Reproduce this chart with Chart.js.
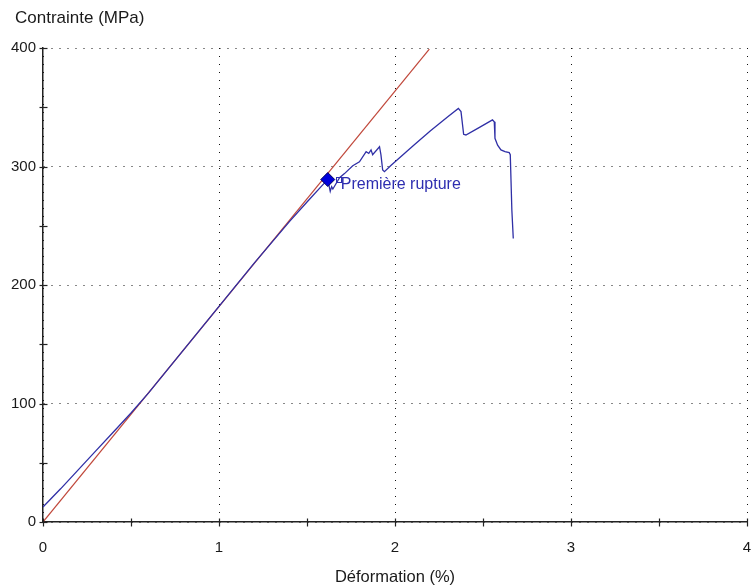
<!DOCTYPE html>
<html><head><meta charset="utf-8">
<script src="https://cdn.jsdelivr.net/npm/chart.js@4/dist/chart.umd.min.js"></script>
<style>html,body{margin:0;padding:0;background:#fff;}canvas{display:block;}</style>
</head><body>
<canvas id="c" width="752" height="588"></canvas>
<script>
// ---- data ----
const strainBlue = [0, 0.1, 0.2, 0.3, 0.4, 0.5, 0.6, 0.8, 1.0, 1.2, 1.4, 1.5, 1.58, 1.618, 1.632, 1.64, 1.647, 1.685, 1.713, 1.76, 1.798, 1.836, 1.851, 1.864, 1.873, 1.912, 1.92, 1.93, 1.94, 1.978, 2.1, 2.2, 2.3, 2.36, 2.375, 2.39, 2.403, 2.48, 2.554, 2.564, 2.568, 2.583, 2.602, 2.625, 2.649, 2.655, 2.664, 2.672];
const stressBlue = [12.7, 28, 44, 60, 76, 92, 109, 145.5, 182, 218.5, 253.5, 270, 283, 289, 279, 283, 281, 290.6, 294, 300.7, 304, 312.5, 311, 314, 310, 316.7, 310, 297, 295.6, 301, 317, 330, 342, 349, 346.3, 327.2, 326.6, 333, 339.3, 337.8, 323.8, 318, 314, 312.5, 311.7, 310, 263, 239.3];
const strainRed = [0, 2.195];
const stressRed = [0, 399];
const ruptureStrain = [1.618];
const ruptureStress = [289];
const ruptureLabel = 'Première rupture';
const xTitle = 'Déformation (%)';
const yTitle = 'Contrainte (MPa)';
const xMin = 0, xMax = 4, xMinorStep = 0.5, xMajorStep = 1;
const yMin = 0, yMax = 400, yMinorStep = 50, yMajorStep = 100;

const FONT = '"Liberation Sans", Arial, sans-serif';
const toPts = (xs, ys) => xs.map((x, i) => ({x, y: ys[i]}));
const isMajor = (v, step) => Math.abs(v / step - Math.round(v / step)) < 1e-6;

const overlay = {
  id: 'overlay',
  afterDraw(chart) {
    const ctx = chart.ctx;
    const xs = chart.scales.x, ys = chart.scales.y;
    ctx.save();
    // crossing tick marks
    ctx.strokeStyle = '#222';
    ctx.lineWidth = 1.2;
    const axisY = Math.round(ys.getPixelForValue(yMin)) + 0.5;
    const axisX = Math.round(xs.getPixelForValue(xMin)) + 0.5;
    xs.ticks.forEach(t => {
      const px = Math.round(xs.getPixelForValue(t.value)) + 0.5;
      ctx.beginPath(); ctx.moveTo(px, axisY - 4); ctx.lineTo(px, axisY + 4); ctx.stroke();
    });
    ys.ticks.forEach(t => {
      const py = Math.round(ys.getPixelForValue(t.value)) + 0.5;
      ctx.beginPath(); ctx.moveTo(axisX - 4, py); ctx.lineTo(axisX + 4, py); ctx.stroke();
    });
    // y title, horizontal above the axis
    ctx.fillStyle = '#1a1a1a';
    ctx.font = '17px ' + FONT;
    ctx.textAlign = 'left';
    ctx.textBaseline = 'middle';
    ctx.fillText(yTitle, 15, 18);
    // annotation
    const dx = xs.getPixelForValue(ruptureStrain[0]);
    const dy = ys.getPixelForValue(ruptureStress[0]);
    ctx.strokeStyle = '#2e2eb0';
    ctx.lineWidth = 1;
    ctx.strokeRect(Math.round(dx + 8) + 0.5, Math.round(dy - 3) + 0.5, 5, 5);
    ctx.fillStyle = '#2e2eb0';
    ctx.font = '16px ' + FONT;
    ctx.fillText(ruptureLabel, dx + 13, dy + 5);
    ctx.restore();
  }
};

new Chart(document.getElementById('c'), {
  type: 'scatter',
  data: {
    datasets: [
      {
        label: ruptureLabel,
        data: toPts(ruptureStrain, ruptureStress),
        pointStyle: 'rectRot', pointRadius: 7,
        backgroundColor: '#0000dd', borderColor: '#00005a', borderWidth: 1,
        showLine: false
      },
      {
        label: 'essai',
        data: toPts(strainBlue, stressBlue),
        showLine: true, borderColor: '#2f2fa6', borderWidth: 1.3,
        pointRadius: 0, tension: 0, fill: false
      },
      {
        label: 'pente',
        data: toPts(strainRed, stressRed),
        showLine: true, borderColor: '#c0473a', borderWidth: 1.2,
        pointRadius: 0, tension: 0, fill: false
      }
    ]
  },
  options: {
    responsive: false,
    animation: false,
    devicePixelRatio: 1,
    layout: { autoPadding: false, padding: { top: 48, right: 5, left: 0, bottom: 0 } },
    plugins: { legend: { display: false }, tooltip: { enabled: false }, title: { display: false } },
    scales: {
      x: {
        type: 'linear', min: xMin, max: xMax,
        afterFit: s => { s.height = 66; s.paddingRight = 0; s.paddingLeft = 0; },
        ticks: {
          stepSize: xMinorStep, autoSkip: false, maxRotation: 0, padding: 17,
          color: '#1a1a1a', font: { family: FONT, size: 15 },
          callback: v => isMajor(v, xMajorStep) ? String(v) : ''
        },
        grid: {
          drawTicks: false, lineWidth: 1,
          color: c => (c.tick && isMajor(c.tick.value, xMajorStep)) ? '#111' : 'rgba(0,0,0,0)'
        },
        border: { display: true, color: '#222', width: 1.5, dash: [1, 7] },
        title: { display: true, text: xTitle, color: '#1a1a1a', font: { family: FONT, size: 16.5 }, padding: { top: 0, bottom: 1 } }
      },
      y: {
        type: 'linear', min: yMin, max: yMax,
        afterFit: s => { s.width = 43; s.paddingTop = 0; s.paddingBottom = 0; },
        ticks: {
          stepSize: yMinorStep, autoSkip: false, padding: 7,
          color: '#1a1a1a', font: { family: FONT, size: 15 },
          callback: v => isMajor(v, yMajorStep) ? String(v) : ''
        },
        grid: {
          drawTicks: false, lineWidth: 1,
          color: c => (c.tick && isMajor(c.tick.value, yMajorStep)) ? '#111' : 'rgba(0,0,0,0)'
        },
        border: { display: true, color: '#222', width: 1.5, dash: [1, 7] }
      }
    }
  },
  plugins: [overlay]
});
</script>
</body></html>
